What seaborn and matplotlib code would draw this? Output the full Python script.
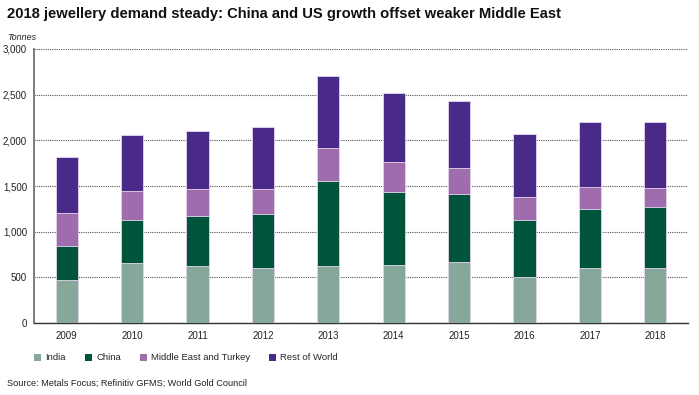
import matplotlib
matplotlib.use("Agg")
import matplotlib.pyplot as plt
import seaborn as sns
import numpy as np
import pandas as pd
from matplotlib.patches import Patch
from matplotlib.ticker import FuncFormatter, FixedLocator

years = ["2009", "2010", "2011", "2012", "2013", "2014", "2015", "2016", "2017", "2018"]
india = [476, 659, 619, 600, 619, 630, 666, 505, 600, 600]
china = [369, 465, 555, 596, 939, 808, 750, 625, 651, 673]
middle_east_turkey = [355, 325, 297, 275, 362, 322, 282, 253, 238, 205]
rest_of_world = [622, 611, 629, 679, 787, 753, 735, 688, 713, 724]

series_names = ["India", "China", "Middle East and Turkey", "Rest of World"]
series_values = [india, china, middle_east_turkey, rest_of_world]
colors = ["#86a89a", "#00543c", "#9f6dad", "#4a2a88"]

sns.set_style("white")
plt.rcParams["font.family"] = ["Liberation Sans", "DejaVu Sans"]

fig = plt.figure(figsize=(6.99, 3.95), dpi=100)
ax = fig.add_axes([34 / 699, 1 - 323 / 395, (688 - 34) / 699, (323 - 49) / 395])

cum = np.cumsum(np.array(series_values), axis=0)
for i in range(len(series_names) - 1, -1, -1):
    df = pd.DataFrame({"year": years, "value": cum[i]})
    sns.barplot(data=df, x="year", y="value", order=years, color=colors[i],
                width=0.34, edgecolor="#e6d8ee", linewidth=0.6, saturation=1,
                ax=ax, zorder=3)

ax.set_xlim(-0.5, 9.5)
ax.set_ylim(0, 3000)
ax.set_xlabel("")
ax.set_ylabel("")
ax.yaxis.set_major_locator(FixedLocator(np.arange(0, 3001, 500)))
ax.yaxis.set_major_formatter(FuncFormatter(lambda v, p: f"{int(v):,}"))
ax.grid(axis="y", linestyle=(0, (1, 1)), color="#555555", linewidth=0.8, zorder=0)
ax.set_axisbelow(True)

for s in ["top", "right"]:
    ax.spines[s].set_visible(False)
ax.spines["left"].set_color("#666666")
ax.spines["left"].set_linewidth(1.2)
ax.spines["bottom"].set_color("#333333")
ax.spines["bottom"].set_linewidth(1.0)

ax.tick_params(axis="x", which="major", length=0, labelsize=7, pad=6, colors="#222222")
ax.set_xticks(np.arange(-0.5, 10, 1), minor=True)
ax.tick_params(axis="x", which="minor", length=4, width=1, direction="out", color="#333333")
ax.tick_params(axis="y", which="major", length=3, width=0.8, direction="out",
               labelsize=7, pad=2, colors="#222222")
ax.tick_params(axis="y", which="major", color="#666666")

fig.text(7 / 699, 1 - 14 / 395, "2018 jewellery demand steady: China and US growth offset weaker Middle East",
         fontsize=10.65, fontweight="bold", va="center", ha="left", color="#111111")
fig.text(7 / 699, 1 - 37 / 395, "Tonnes", fontsize=6.5, style="italic", va="center", ha="left",
         color="#222222")
fig.text(7 / 699, 1 - 383 / 395, "Source: Metals Focus; Refinitiv GFMS; World Gold Council",
         fontsize=6.6, va="center", ha="left", color="#222222")

handles = [Patch(facecolor=c, edgecolor="none") for c in colors]
fig.legend(handles, series_names, loc="center left", bbox_to_anchor=(34 / 699, 1 - 358 / 395),
           ncol=4, frameon=False, fontsize=6.8, handlelength=0.75, handleheight=0.75,
           handletextpad=0.45, columnspacing=2.0, borderaxespad=0, borderpad=0)

fig.savefig("out.png", dpi=100)
